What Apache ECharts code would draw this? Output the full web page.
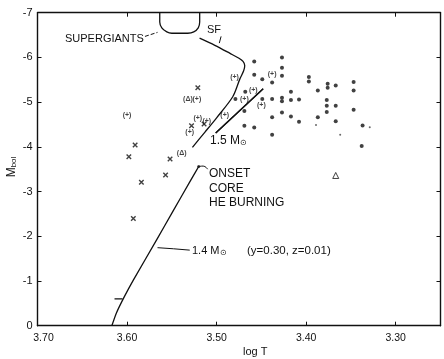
<!DOCTYPE html>
<html>
<head>
<meta charset="utf-8">
<script src="https://cdn.jsdelivr.net/npm/echarts@6/dist/echarts.min.js"></script>
<style>
  html, body { margin: 0; padding: 0; background: #fff; }
  #chart { width: 444px; height: 359px; }
</style>
</head>
<body>
<div id="chart"></div>
<script>
// tick labels
const xTicks = [3.7, 3.6, 3.5, 3.4, 3.3]

// stars, [log T, M_bol]
const dots = [
  [3.458, -5.91], [3.427, -6.0], [3.427, -5.77], [3.458, -5.61], [3.427, -5.59],
  [3.449, -5.51], [3.438, -5.44], [3.397, -5.56], [3.397, -5.46], [3.376, -5.41],
  [3.376, -5.32], [3.367, -5.37], [3.347, -5.45], [3.347, -5.26], [3.387, -5.26],
  [3.417, -5.23], [3.468, -5.23], [3.479, -5.07], [3.449, -5.07], [3.438, -5.07],
  [3.427, -5.1], [3.427, -5.02], [3.417, -5.05], [3.408, -5.06], [3.377, -5.05],
  [3.377, -4.92], [3.377, -4.78], [3.367, -4.92], [3.347, -4.83], [3.469, -4.8],
  [3.438, -4.66], [3.427, -4.77], [3.417, -4.68], [3.408, -4.56], [3.387, -4.66],
  [3.367, -4.57], [3.469, -4.47], [3.458, -4.43], [3.438, -4.27], [3.337, -4.48],
  [3.338, -4.02]
]
const faintDots = [[3.329, -4.44], [3.362, -4.27], [3.389, -4.49]]
const plusStars = [
  [3.6, -4.7], [3.522, -5.06], [3.521, -4.64], [3.511, -4.58], [3.53, -4.32],
  [3.48, -5.56], [3.438, -5.63], [3.459, -5.27], [3.469, -5.07], [3.45, -4.93],
  [3.491, -4.71]
]
const deltaStars = [[3.532, -5.06], [3.539, -3.86]]
const openTriangles = [[3.367, -3.36]]
const crosses = [
  [3.521, -5.32], [3.528, -4.47], [3.514, -4.51], [3.591, -4.04], [3.598, -3.78],
  [3.552, -3.73], [3.557, -3.37], [3.584, -3.21], [3.593, -2.4]
]

// tracks and outlines
const track14 = [
  [3.617, 0], [3.612, -0.28], [3.603, -0.65], [3.593, -1.02], [3.567, -1.92],
  [3.549, -2.55], [3.529, -3.25], [3.52, -3.56]
]
const onsetPoint = [[3.52, -3.56]]
const track14Tick = [[3.614, -0.6], [3.605, -0.6]]
const track15 = [[3.501, -4.31], [3.448, -5.3]]
const sfCurve = [
  [3.519, -6.43], [3.502, -6.27], [3.485, -6.09], [3.475, -5.98], [3.4705, -5.91],
  [3.4686, -5.82], [3.4698, -5.7], [3.474, -5.52], [3.482, -5.12], [3.5, -4.65],
  [3.513, -4.33], [3.527, -3.99]
]
const supergiantLoop = [
  [3.5635, -7.0], [3.5635, -6.79], [3.5612, -6.66], [3.5556, -6.57], [3.5501, -6.54],
  [3.5322, -6.54], [3.5255, -6.57], [3.5205, -6.66], [3.5189, -6.79], [3.5189, -7.0]
]

// leader lines for the notes
const supergiantLeader = [[3.58, -6.47], [3.566, -6.56]]
const sfLeader = [[3.495, -6.47], [3.497, -6.32]]
const onsetLeader = [[3.52, -3.56], [3.515, -3.57], [3.51, -3.5]]
const leader14 = [[3.566, -1.745], [3.548, -1.72], [3.53, -1.69]]

const ink = "#111"
const font = "Liberation Sans"

function curve(data, extra) {
  return Object.assign({
    type: "line", data, symbol: "none", silent: true, z: 3,
    lineStyle: { color: ink, width: 1.3 },
  }, extra)
}

function textMarks(data, text) {
  return {
    type: "scatter", data, symbolSize: 1, silent: true,
    itemStyle: { color: "transparent" },
    label: {
      show: true, position: "inside", formatter: text,
      color: ink, fontSize: 7, fontFamily: font, fontWeight: "bold",
    },
  }
}

function note(x, y, text, size, extra) {
  return Object.assign({
    type: "text", x, y, silent: true,
    style: {
      text, fill: ink, font: size + "px " + font,
      textAlign: "left", align: "left",
      textVerticalAlign: "middle", verticalAlign: "middle",
      rich: { sun: { fontSize: 8, fill: ink, color: ink, fontFamily: font, verticalAlign: "bottom" } },
    },
  }, extra)
}

const axisLine = { show: true, onZero: false, lineStyle: { color: ink, width: 1.4 } }

const chart = echarts.init(document.getElementById("chart"))
chart.setOption({
  animation: false,
  backgroundColor: "#fff",
  grid: { left: 37.5, right: 3.5, top: 12.7, bottom: 33.3 },
  xAxis: [
    {
      type: "value", min: 3.25, max: 3.7, inverse: true, position: "bottom",
      axisLine,
      axisTick: { show: true, inside: true, length: 4, customValues: xTicks, lineStyle: { color: ink } },
      axisLabel: {
        customValues: xTicks, margin: 7, color: ink, fontSize: 10.5, fontFamily: font,
        formatter: (v) => (v.toFixed(2) === "3.70" ? "{first|3.70}" : v.toFixed(2)),
        rich: { first: { padding: [0, 0, 0, 12], fontSize: 10.5, fontFamily: font, color: ink } },
      },
      splitLine: { show: false },
    },
    {
      type: "value", min: 3.25, max: 3.7, inverse: true, position: "top",
      axisLine,
      axisTick: { show: true, inside: true, length: 4, customValues: xTicks, lineStyle: { color: ink } },
      axisLabel: { show: false },
      splitLine: { show: false },
    },
  ],
  yAxis: [
    {
      type: "value", min: -7, max: 0, interval: 1, inverse: true,
      axisLine,
      axisTick: { show: true, inside: true, length: 4, lineStyle: { color: ink } },
      axisLabel: { margin: 5, color: ink, fontSize: 11, fontFamily: font },
      splitLine: { show: false },
    },
    {
      type: "value", min: -7, max: 0, interval: 1, inverse: true, position: "right",
      axisLine,
      axisTick: { show: true, inside: true, length: 4, lineStyle: { color: ink } },
      axisLabel: { show: false },
      splitLine: { show: false },
    },
  ],
  series: [
    curve(track14, { smooth: 0.15 }),
    curve(track14Tick),
    curve(onsetLeader, { smooth: true, lineStyle: { color: ink, width: 1 } }),
    curve(leader14, { lineStyle: { color: ink, width: 1 } }),
    curve(sfCurve, { smooth: 0.3 }),
    curve(supergiantLoop, { smooth: 0.2 }),
    curve(supergiantLeader, { lineStyle: { color: ink, width: 1, type: [4, 2] } }),
    curve(sfLeader, { lineStyle: { color: ink, width: 1 } }),
    curve(track15, {
      markLine: {
        silent: true, animation: false,
        symbol: ["none", "arrow"], symbolSize: [0, 7],
        label: { show: false },
        lineStyle: { color: ink, width: 1.3, type: "solid" },
        data: [[{ coord: track15[0] }, { coord: track15[1] }]],
      },
    }),
    { type: "scatter", data: onsetPoint, symbolSize: 3, itemStyle: { color: ink }, silent: true },
    { type: "scatter", data: dots, symbolSize: 4, itemStyle: { color: ink }, silent: true },
    { type: "scatter", data: faintDots, symbolSize: 2, itemStyle: { color: "#444" }, silent: true },
    {
      type: "scatter", data: crosses, symbol: "path://M0,0L10,10M10,0L0,10", symbolSize: 4.5,
      itemStyle: { color: "none", borderColor: ink, borderWidth: 1.4 }, silent: true,
    },
    {
      type: "scatter", data: openTriangles, symbol: "triangle", symbolSize: 6,
      itemStyle: { color: "#fff", borderColor: ink, borderWidth: 1 }, silent: true,
    },
    textMarks(plusStars, "(+)"),
    textMarks(deltaStars, "(Δ)"),
  ],
  graphic: [
    note(65, 39, "SUPERGIANTS", 11),
    note(207, 30, "SF", 11),
    note(210, 141, "1.5 M{sun|⊙}", 12),
    note(209, 174, "ONSET", 12),
    note(209, 189, "CORE", 12),
    note(209, 203, "HE BURNING", 12),
    note(192, 251, "1.4 M{sun|⊙}", 11),
    note(247, 251, "(y=0.30, z=0.01)", 11.5),
    note(243, 352, "log T", 11),
    {
      type: "text", x: 12, y: 167, rotation: Math.PI / 2, silent: true,
      style: {
        text: "M{b|bol}", fill: ink, font: "12px " + font,
        textAlign: "center", align: "center",
        textVerticalAlign: "middle", verticalAlign: "middle",
        rich: { b: { fontSize: 8, fill: ink, color: ink, fontFamily: font, verticalAlign: "bottom" } },
      },
    },
  ],
})
</script>
</body>
</html>
